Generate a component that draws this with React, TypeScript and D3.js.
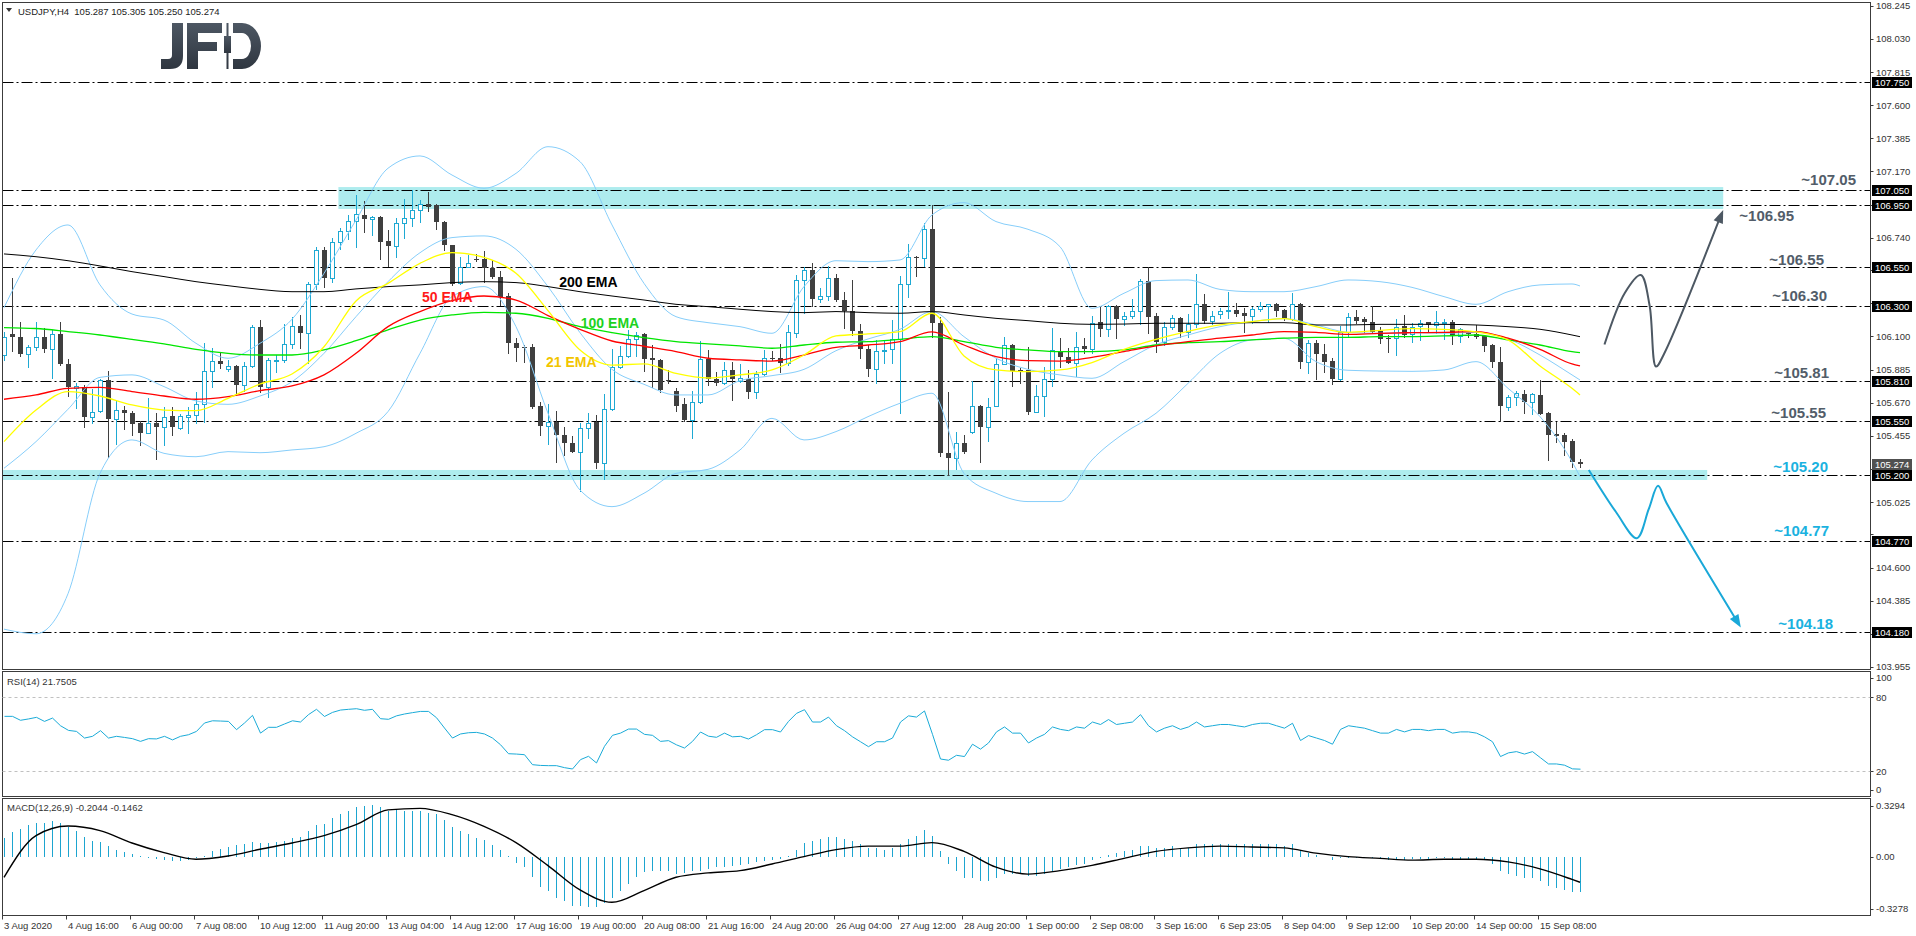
import React, { useMemo } from 'react';
import * as d3 from 'd3';

const WIDTH = 1916;
const HEIGHT = 936;
const FONT = '"Liberation Sans", Arial, sans-serif';

const BULL = '#1ea9d3';
const BEAR = '#3f3f3f';

// USDJPY H4 candles: open, high, low, close
const candles: [number, number, number, number][] = [
  [105.979, 106.131, 105.947, 106.098], [106.116, 106.477, 106.007, 106.094], [106.096, 106.193, 105.973, 105.988], [105.984, 106.044, 105.904, 106.029], [106.029, 106.193, 106.012, 106.098],
  [106.094, 106.157, 106.001, 106.016], [106.016, 106.142, 105.832, 106.113], [106.116, 106.193, 105.914, 105.919], [105.919, 105.953, 105.713, 105.769], [105.763, 105.8, 105.633, 105.778],
  [105.774, 105.785, 105.51, 105.575], [105.575, 105.757, 105.54, 105.612], [105.616, 105.821, 105.612, 105.817], [105.817, 105.878, 105.32, 105.562], [105.562, 105.681, 105.4, 105.622],
  [105.622, 105.648, 105.501, 105.601], [105.601, 105.618, 105.458, 105.529], [105.535, 105.551, 105.393, 105.471], [105.471, 105.702, 105.471, 105.535], [105.535, 105.601, 105.302, 105.51],
  [105.51, 105.644, 105.393, 105.575], [105.583, 105.64, 105.458, 105.51], [105.506, 105.596, 105.501, 105.583], [105.579, 105.64, 105.475, 105.588], [105.588, 105.737, 105.535, 105.659],
  [105.659, 106.059, 105.546, 105.875], [105.875, 106.023, 105.774, 105.94], [105.94, 106.001, 105.897, 105.919], [105.891, 105.947, 105.878, 105.91], [105.91, 105.914, 105.72, 105.785],
  [105.785, 105.936, 105.748, 105.91], [105.91, 106.174, 105.904, 106.159], [106.159, 106.206, 105.742, 105.774], [105.769, 105.958, 105.705, 105.947], [105.943, 105.979, 105.871, 105.949],
  [105.947, 106.178, 105.936, 106.051], [106.049, 106.224, 106.023, 106.165], [106.165, 106.239, 106.023, 106.12], [106.124, 106.455, 105.925, 106.44], [106.44, 106.678, 106.41, 106.661],
  [106.661, 106.678, 106.423, 106.477], [106.477, 106.741, 106.455, 106.71], [106.71, 106.801, 106.665, 106.786], [106.786, 106.888, 106.732, 106.849], [106.849, 107.018, 106.682, 106.894],
  [106.888, 106.979, 106.78, 106.86], [106.86, 106.881, 106.758, 106.873], [106.873, 106.881, 106.6, 106.714], [106.719, 106.79, 106.557, 106.689], [106.689, 106.866, 106.613, 106.833],
  [106.833, 106.99, 106.736, 106.871], [106.871, 107.05, 106.816, 106.918], [106.918, 106.985, 106.845, 106.957], [106.957, 107.039, 106.916, 106.942], [106.95, 106.959, 106.795, 106.84],
  [106.845, 106.849, 106.661, 106.691], [106.691, 106.695, 106.436, 106.44], [106.444, 106.617, 106.44, 106.553], [106.553, 106.626, 106.548, 106.574], [106.604, 106.635, 106.591, 106.6],
  [106.604, 106.654, 106.455, 106.546], [106.546, 106.596, 106.477, 106.483], [106.483, 106.527, 106.304, 106.354], [106.362, 106.384, 105.99, 106.055], [106.055, 106.088, 105.943, 106.027],
  [106.031, 106.044, 105.936, 106.027], [106.029, 106.051, 105.633, 105.644], [105.648, 105.676, 105.46, 105.521], [105.521, 105.661, 105.402, 105.546], [105.546, 105.618, 105.285, 105.458],
  [105.46, 105.514, 105.33, 105.406], [105.406, 105.454, 105.352, 105.352], [105.352, 105.54, 105.099, 105.503], [105.503, 105.601, 105.438, 105.54], [105.546, 105.588, 105.244, 105.281],
  [105.276, 105.726, 105.172, 105.627], [105.627, 106.016, 105.622, 105.899], [105.899, 106.038, 105.893, 105.975], [105.975, 106.142, 105.968, 106.081], [106.081, 106.131, 105.973, 106.111],
  [106.113, 106.124, 105.878, 105.951], [105.958, 106.044, 105.769, 105.945], [105.947, 105.951, 105.742, 105.752], [105.815, 105.882, 105.795, 105.811], [105.746, 105.763, 105.618, 105.648],
  [105.661, 105.698, 105.553, 105.557], [105.557, 105.748, 105.438, 105.672], [105.672, 106.07, 105.666, 105.951], [105.953, 106.012, 105.785, 105.821], [105.821, 105.871, 105.785, 105.8],
  [105.8, 105.936, 105.791, 105.882], [105.882, 105.936, 105.687, 105.821], [105.813, 105.921, 105.806, 105.828], [105.824, 105.882, 105.698, 105.737], [105.737, 105.878, 105.698, 105.854],
  [105.854, 106.012, 105.85, 105.958], [105.96, 106.007, 105.947, 105.955], [105.958, 106.051, 105.871, 105.925], [105.925, 106.174, 105.914, 106.126], [106.124, 106.498, 106.094, 106.466],
  [106.466, 106.553, 106.25, 106.531], [106.531, 106.574, 106.297, 106.341], [106.341, 106.412, 106.325, 106.362], [106.362, 106.557, 106.336, 106.477], [106.477, 106.505, 106.332, 106.336],
  [106.336, 106.386, 106.157, 106.265], [106.265, 106.466, 106.109, 106.137], [106.137, 106.18, 105.958, 106.016], [106.016, 106.044, 105.843, 105.886], [105.886, 106.077, 105.8, 106.005],
  [106.005, 106.077, 105.925, 106.01], [106.016, 106.206, 105.925, 106.081], [106.081, 106.492, 105.601, 106.438], [106.438, 106.697, 106.354, 106.613], [106.615, 106.622, 106.494, 106.609],
  [106.609, 106.833, 106.557, 106.795], [106.795, 106.953, 106.098, 106.189], [106.189, 106.224, 105.324, 105.346], [105.346, 105.737, 105.2, 105.309], [105.309, 105.477, 105.237, 105.406],
  [105.406, 105.46, 105.341, 105.352], [105.477, 105.811, 105.471, 105.65], [105.648, 105.652, 105.287, 105.51], [105.51, 105.702, 105.423, 105.644], [105.65, 105.958, 105.646, 105.921],
  [105.921, 106.094, 105.918, 106.042], [106.042, 106.051, 105.778, 105.878], [105.884, 105.893, 105.8, 105.878], [105.882, 106.029, 105.596, 105.612], [105.612, 105.782, 105.61, 105.713],
  [105.713, 105.904, 105.583, 105.821], [105.821, 106.152, 105.778, 106.012], [106.007, 106.088, 105.904, 105.964], [105.968, 106.023, 105.925, 105.93], [105.93, 106.126, 105.843, 106.033],
  [106.038, 106.088, 105.99, 106.02], [106.02, 106.232, 105.99, 106.189], [106.191, 106.299, 106.103, 106.146], [106.146, 106.304, 106.103, 106.297], [106.297, 106.304, 106.092, 106.211],
  [106.211, 106.261, 106.174, 106.235], [106.235, 106.341, 106.217, 106.267], [106.267, 106.47, 106.18, 106.462], [106.459, 106.548, 106.124, 106.228], [106.235, 106.25, 106.001, 106.062],
  [106.062, 106.196, 106.044, 106.163], [106.163, 106.239, 106.146, 106.217], [106.217, 106.224, 106.098, 106.131], [106.131, 106.245, 106.098, 106.18], [106.18, 106.505, 106.159, 106.31],
  [106.31, 106.375, 106.185, 106.202], [106.202, 106.267, 106.18, 106.232], [106.243, 106.282, 106.217, 106.267], [106.267, 106.386, 106.217, 106.271], [106.269, 106.319, 106.232, 106.245],
  [106.254, 106.282, 106.131, 106.235], [106.235, 106.293, 106.185, 106.276], [106.276, 106.321, 106.267, 106.297], [106.297, 106.31, 106.196, 106.308], [106.308, 106.315, 106.235, 106.267],
  [106.271, 106.276, 106.206, 106.213], [106.213, 106.38, 106.206, 106.308], [106.308, 106.315, 105.897, 105.936], [105.936, 106.077, 105.86, 106.055], [106.055, 106.077, 105.824, 105.984],
  [105.984, 106.051, 105.867, 105.936], [105.94, 105.958, 105.789, 105.821], [105.821, 106.167, 105.817, 106.131], [106.131, 106.25, 106.098, 106.228], [106.228, 106.271, 106.185, 106.2],
  [106.211, 106.228, 106.131, 106.191], [106.191, 106.299, 106.126, 106.131], [106.135, 106.163, 106.055, 106.083], [106.09, 106.109, 106.001, 106.085], [106.088, 106.211, 105.979, 106.163],
  [106.167, 106.239, 106.098, 106.109], [106.113, 106.185, 106.066, 106.163], [106.167, 106.206, 106.077, 106.185], [106.191, 106.196, 106.135, 106.172], [106.172, 106.265, 106.12, 106.191],
  [106.191, 106.211, 106.083, 106.196], [106.191, 106.206, 106.051, 106.103], [106.103, 106.152, 106.066, 106.146], [106.124, 106.131, 106.098, 106.116], [106.116, 106.174, 106.092, 106.098],
  [106.103, 106.109, 106.005, 106.04], [106.044, 106.051, 105.904, 105.936], [105.932, 106.029, 105.551, 105.65], [105.644, 105.72, 105.622, 105.705], [105.705, 105.748, 105.655, 105.731],
  [105.726, 105.752, 105.605, 105.676], [105.676, 105.731, 105.596, 105.726], [105.72, 105.817, 105.596, 105.596], [105.601, 105.612, 105.298, 105.46], [105.464, 105.546, 105.417, 105.456],
  [105.46, 105.471, 105.33, 105.417], [105.421, 105.434, 105.255, 105.287], [105.287, 105.305, 105.25, 105.274],
];

// indicator lines are read every 4th bar
const indicatorIdx = [
  0, 4, 8, 12, 16, 20, 24, 28, 32, 36, 40, 44, 48, 52, 56, 60, 64, 68, 72, 76, 80, 84, 88, 92, 96,
  100, 104, 108, 112, 116, 120, 124, 128, 132, 136, 140, 144, 148, 152, 156, 160, 164, 168, 172, 176, 180, 184, 188, 192, 196, 197,
];
const ema200 = [
  106.635, 106.617, 106.591, 106.557, 106.52, 106.488, 106.455, 106.429, 106.405, 106.39, 106.39, 106.408, 106.423, 106.434, 106.449, 106.455, 106.449, 106.423, 106.39, 106.362, 106.336, 106.308, 106.293, 106.276, 106.261,
  106.254, 106.261, 106.254, 106.25, 106.261, 106.239, 106.217, 106.202, 106.185, 106.178, 106.18, 106.185, 106.185, 106.185, 106.189, 106.189, 106.174, 106.174, 106.178, 106.178, 106.178, 106.174, 106.163, 106.146, 106.109, 106.098,
];
const ema100 = [
  106.157, 106.151, 106.131, 106.109, 106.081, 106.051, 106.016, 105.99, 105.979, 105.979, 106.012, 106.072, 106.142, 106.206, 106.239, 106.256, 106.25, 106.217, 106.163, 106.124, 106.092, 106.066, 106.051, 106.038, 106.023,
  106.044, 106.062, 106.066, 106.081, 106.098, 106.066, 106.029, 106.012, 106.001, 106.001, 106.012, 106.044, 106.059, 106.066, 106.077, 106.088, 106.094, 106.094, 106.098, 106.098, 106.103, 106.109, 106.077, 106.044, 106.001, 105.995,
];
const ema50 = [
  105.692, 105.72, 105.763, 105.769, 105.742, 105.713, 105.692, 105.709, 105.748, 105.778, 105.85, 105.99, 106.163, 106.261, 106.332, 106.362, 106.336, 106.235, 106.146, 106.07, 106.036, 106.001, 105.958, 105.947, 105.94,
  105.979, 106.029, 106.044, 106.066, 106.129, 106.044, 105.968, 105.943, 105.94, 105.964, 106.001, 106.038, 106.066, 106.088, 106.109, 106.131, 106.126, 106.113, 106.12, 106.124, 106.126, 106.131, 106.088, 106.016, 105.921, 105.908,
];
const ema21 = [
  105.417, 105.622, 105.742, 105.713, 105.655, 105.622, 105.618, 105.698, 105.791, 105.856, 106.033, 106.33, 106.444, 106.574, 106.643, 106.613, 106.509, 106.267, 106.012, 105.914, 105.921, 105.86, 105.83, 105.85, 105.882,
  105.979, 106.103, 106.116, 106.131, 106.25, 105.973, 105.882, 105.871, 105.882, 105.93, 106.016, 106.081, 106.133, 106.174, 106.196, 106.215, 106.163, 106.126, 106.139, 106.15, 106.146, 106.129, 106.077, 105.908, 105.763, 105.72,
];
const bbUpper = [
  106.286, 106.661, 106.823, 106.434, 106.245, 106.206, 106.055, 105.958, 106.055, 106.211, 106.509, 106.855, 107.191, 107.271, 107.147, 107.061, 107.158, 107.331, 107.234, 106.823, 106.444, 106.228, 106.189, 106.163, 106.12,
  106.423, 106.591, 106.585, 106.596, 106.888, 106.968, 106.845, 106.795, 106.682, 106.282, 106.38, 106.462, 106.466, 106.405, 106.39, 106.39, 106.423, 106.466, 106.455, 106.418, 106.358, 106.308, 106.39, 106.434, 106.44, 106.427,
];
const bbMiddle = [
  105.244, 105.417, 105.627, 105.834, 105.85, 105.774, 105.681, 105.659, 105.713, 105.806, 105.99, 106.228, 106.455, 106.643, 106.741, 106.752, 106.665, 106.423, 106.124, 105.886, 105.789, 105.72, 105.72, 105.813, 105.845,
  105.886, 106.007, 106.083, 106.146, 106.261, 106.098, 105.958, 105.886, 105.85, 105.828, 105.936, 106.046, 106.109, 106.163, 106.196, 106.215, 106.174, 106.126, 106.12, 106.124, 106.12, 106.126, 106.083, 105.979, 105.85, 105.817,
];
const bbLower = [
  104.2, 104.17, 104.43, 105.211, 105.428, 105.341, 105.319, 105.352, 105.345, 105.363, 105.384, 105.471, 105.612, 105.99, 106.358, 106.423, 106.163, 105.601, 105.103, 104.995, 105.082, 105.211, 105.237, 105.363, 105.568,
  105.428, 105.482, 105.579, 105.666, 105.731, 105.211, 105.082, 105.028, 105.028, 105.298, 105.471, 105.601, 105.795, 105.99, 106.077, 106.088, 105.936, 105.88, 105.875, 105.873, 105.882, 105.936, 105.763, 105.579, 105.287, 105.19,
];

// RSI(14), one value per bar
const rsi14 = [
  64.6, 64.6, 61.4, 62.5, 63.8, 60.5, 63.2, 57, 53.2, 52.4,
  47, 48.4, 53, 47, 48.4, 47.5, 46.5, 44.3, 46.5, 46.3,
  48.4, 45.5, 48.4, 49.7, 52.4, 59.2, 61, 60.8, 60.5, 53.8,
  59.2, 65.4, 51, 55.7, 55.7, 58.4, 61, 60, 66, 70.3,
  64.5, 67.8, 69.7, 70.3, 70.8, 69.5, 70.3, 62.7, 62.2, 65,
  66.5, 67.6, 68.6, 68.6, 63.5, 55.1, 47, 50.3, 51.3, 51.6,
  50.3, 47, 41.6, 34.3, 34, 33.5, 25.4, 24.8, 24.6, 24.6,
  23, 21.9, 29.5, 32.2, 26.8, 40.3, 49.2, 51, 54.3, 54.3,
  50, 49.2, 44.3, 44.9, 41.5, 38.9, 44.3, 51.9, 48.5, 47.6,
  51, 48, 48.4, 46.2, 49.7, 53.8, 53.8, 51.9, 60.5, 67,
  70, 60, 60, 64, 57, 53, 48, 44, 40, 44,
  44, 47, 60, 65, 64, 69, 50, 30, 29, 33,
  32, 42, 38, 43, 52, 56, 51, 51, 43, 47,
  50, 56, 54, 53, 56, 55, 60, 58, 62, 58,
  59, 60, 66, 57, 52, 55, 57, 54, 56, 60,
  56, 57, 58, 58, 57, 56, 58, 59, 59, 57,
  55, 59, 45, 49, 47, 45, 42, 54, 57, 56,
  55, 53, 51, 51, 54, 52, 54, 54, 53, 54,
  54, 51, 52, 52, 51, 48, 44, 32, 35, 36,
  34, 36, 31, 26, 26, 25, 22, 21.7505,
];

// MACD(12,26,9) main, one value per bar
const macdMain = [
  0.107, 0.139, 0.158, 0.183, 0.194, 0.194, 0.202, 0.19, 0.171, 0.149,
  0.11, 0.088, 0.082, 0.059, 0.04, 0.025, 0.015, 0.004, -0.008, -0.013,
  -0.019, -0.023, -0.027, -0.017, -0.008, 0.002, 0.03, 0.042, 0.053, 0.065,
  0.072, 0.086, 0.078, 0.078, 0.082, 0.091, 0.107, 0.11, 0.145, 0.179,
  0.187, 0.221, 0.244, 0.263, 0.282, 0.291, 0.295, 0.282, 0.263, 0.267,
  0.259, 0.259, 0.259, 0.25, 0.244, 0.21, 0.171, 0.145, 0.13, 0.107,
  0.095, 0.069, 0.038, 0.004, -0.038, -0.061, -0.114, -0.171, -0.198, -0.236,
  -0.251, -0.28, -0.28, -0.286, -0.29, -0.267, -0.236, -0.194, -0.156, -0.114,
  -0.09, -0.084, -0.084, -0.084, -0.099, -0.095, -0.084, -0.08, -0.07, -0.061,
  -0.057, -0.051, -0.046, -0.042, -0.032, -0.023, -0.019, -0.013, 0.004, 0.04,
  0.08, 0.09, 0.1, 0.11, 0.11, 0.1, 0.09, 0.07, 0.05, 0.05,
  0.04, 0.05, 0.07, 0.1, 0.12, 0.15, 0.12, 0.03, -0.04, -0.08,
  -0.12, -0.12, -0.14, -0.14, -0.12, -0.1, -0.1, -0.1, -0.11, -0.11,
  -0.1, -0.08, -0.07, -0.06, -0.05, -0.04, -0.02, -0.01, 0.01, 0.02,
  0.03, 0.04, 0.06, 0.06, 0.05, 0.05, 0.06, 0.05, 0.05, 0.07,
  0.07, 0.07, 0.07, 0.07, 0.07, 0.07, 0.07, 0.07, 0.07, 0.07,
  0.06, 0.07, 0.03, 0.02, 0.01, 0.0, -0.02, -0.01, -0.005, -0.005,
  -0.008, -0.01, -0.015, -0.018, -0.015, -0.018, -0.015, -0.013, -0.013, -0.01,
  -0.01, -0.013, -0.012, -0.013, -0.015, -0.022, -0.04, -0.08, -0.1, -0.11,
  -0.12, -0.12, -0.14, -0.17, -0.18, -0.19, -0.2, -0.2044,
];
// MACD signal line, read at indicatorIdx
const macdSignal = [
  -0.118, 0.12, 0.175, 0.149, 0.078, 0.023, -0.015, 0.004, 0.042, 0.078, 0.12, 0.183, 0.267, 0.276, 0.24, 0.173, 0.08, -0.051, -0.19, -0.261, -0.194, -0.118, -0.093, -0.08, -0.042,
  0.0, 0.04, 0.06, 0.06, 0.08, 0.03, -0.06, -0.1, -0.08, -0.05, -0.01, 0.03, 0.05, 0.06, 0.055, 0.05, 0.02, 0.0, -0.01, -0.02, -0.015, -0.015, -0.03, -0.07, -0.13, -0.1462,
];

const levels = [107.75, 107.05, 106.95, 106.55, 106.3, 105.81, 105.55, 105.2, 104.77, 104.18];
const priceTicks = [
  108.245, 108.03, 107.815, 107.6, 107.385, 107.17, 106.955, 106.74, 106.53, 106.315, 106.1,
  105.885, 105.67, 105.455, 105.24, 105.025, 104.815, 104.6, 104.385, 104.17, 103.955,
];
const lastPrice = 105.274;
const headerText = 'USDJPY,H4\u00a0\u00a0105.287 105.305 105.250 105.274';

const timeLabels = [
  '3 Aug 2020', '4 Aug 16:00', '6 Aug 00:00', '7 Aug 08:00', '10 Aug 12:00', '11 Aug 20:00', '13 Aug 04:00',
  '14 Aug 12:00', '17 Aug 16:00', '19 Aug 00:00', '20 Aug 08:00', '21 Aug 16:00', '24 Aug 20:00', '26 Aug 04:00',
  '27 Aug 12:00', '28 Aug 20:00', '1 Sep 00:00', '2 Sep 08:00', '3 Sep 16:00', '6 Sep 23:05', '8 Sep 04:00',
  '9 Sep 12:00', '10 Sep 20:00', '14 Sep 00:00', '15 Sep 08:00',
];

// analyst notes next to the levels
const noteTexts = ['~107.05', '~106.95', '~106.55', '~106.30', '~105.81', '~105.55', '~105.20', '~104.77', '~104.18'];
const notePrices = [107.05, 106.95, 106.55, 106.3, 105.81, 105.55, 105.2, 104.77, 104.18];
const noteBearish = [false, false, false, false, false, false, true, true, true];

// scenario arrows (bar index, price)
const bullArrowIdx = [200.06, 202.6, 204.6, 205.7, 206.5, 207.5, 214.9];
const bullArrowPrice = [106.047, 106.382, 106.498, 106.3, 105.904, 105.986, 106.92];
const bearArrowIdx = [198.1, 201.5, 204.1, 205.6, 206.75, 207.8, 217.1];
const bearArrowPrice = [105.233, 104.96, 104.79, 104.98, 105.13, 105.02, 104.21];

// shaded zones: from bar, to bar, low, high
const zones: [number, number, number, number][] = [
  [41.8, 214.9, 106.927, 107.069],
  [-0.2, 212.9, 105.168, 105.233],
];

const emaNames = ['200 EMA', '50 EMA', '100 EMA', '21 EMA'];
const emaNameIdx = [69.4, 52.25, 72.1, 67.75];
const emaNamePrice = [106.453, 106.356, 106.187, 105.934];

const App: React.FC = () => {
  const P = { left: 2.5, right: 1870.5, top: 2.5, mainBottom: 669.5, rsiTop: 671.5, rsiBottom: 796.5, macdTop: 798.5, macdBottom: 915.5 };

  const x = useMemo(() => d3.scaleLinear().domain([0, 197]).range([4, 1580]), []);
  const y = useMemo(() => d3.scaleLinear().domain([103.955, 108.245]).range([666.9, 5.85]), []);
  const yRsi = useMemo(() => d3.scaleLinear().domain([0, 100]).range([796, 672.7]), []);
  const yMacd = useMemo(() => d3.scaleLinear().domain([-0.3278, 0.3294]).range([914, 799]), []);

  const sampled = (vals: number[]) =>
    d3.line<number>()
      .x((_, k) => x(indicatorIdx[k]))
      .y(v => y(v))
      .curve(d3.curveMonotoneX)(vals) || '';

  const rsiPath = d3.line<number>().x((_, i) => x(i) + 0.5).y(v => yRsi(v))(rsi14) || '';
  const signalPath = d3.line<number>()
    .x((_, k) => x(indicatorIdx[k]))
    .y(v => yMacd(v))
    .curve(d3.curveMonotoneX)(macdSignal) || '';

  const arrow = (idx: number[], price: number[]) => {
    const pts: [number, number][] = idx.map((v, k) => [x(v), y(price[k])]);
    const [x1, y1] = pts[pts.length - 2];
    const [x2, y2] = pts[pts.length - 1];
    const a = Math.atan2(y2 - y1, x2 - x1);
    const len = 13, half = 5;
    const bx = x2 - len * Math.cos(a), by = y2 - len * Math.sin(a);
    const head = [
      [x2, y2],
      [bx + half * Math.sin(a), by - half * Math.cos(a)],
      [bx - half * Math.sin(a), by + half * Math.cos(a)],
    ].map(p => p.join(',')).join(' ');
    const shaft = d3.line().curve(d3.curveCatmullRom.alpha(0.5))(
      [...pts.slice(0, -1), [x2 - (len - 2) * Math.cos(a), y2 - (len - 2) * Math.sin(a)]]
    ) || '';
    return { shaft, head };
  };
  const bull = arrow(bullArrowIdx, bullArrowPrice);
  const bear = arrow(bearArrowIdx, bearArrowPrice);

  const noteLayout: [number, number][] = [[1856, -10], [1794, 10], [1824, -8], [1827, -10], [1829, -9], [1826, -9], [1828, -9], [1829, -11], [1833, -9]];

  // tick labels hidden under the level / price boxes are not drawn
  const boxYs = [...levels, lastPrice].map(v => y(v));
  const visibleTicks = priceTicks.filter(t => boxYs.every(by => Math.abs(y(t) - by) > 10));

  const axisText = { fontFamily: FONT, fontSize: 9.5, fill: '#333' };

  return (
    <div style={{ position: 'absolute', left: 0, top: 0, width: WIDTH, height: HEIGHT, background: '#fff' }}>
      <svg width={WIDTH} height={HEIGHT} viewBox={`0 0 ${WIDTH} ${HEIGHT}`} style={{ display: 'block' }}>
        <defs>
          <clipPath id="main-clip">
            <rect x={P.left} y={P.top} width={P.right - P.left} height={P.mainBottom - P.top} />
          </clipPath>
          <linearGradient id="logo-grad" x1="0" y1="0" x2="0" y2="1">
            <stop offset="0%" stopColor="#4d5763" />
            <stop offset="100%" stopColor="#2f3640" />
          </linearGradient>
        </defs>
        <rect width={WIDTH} height={HEIGHT} fill="#fff" />

        <g clipPath="url(#main-clip)">
          {/* zones */}
          {zones.map(([a, b, lo, hi], k) => (
            <rect key={k} x={x(a)} y={y(hi)} width={x(b) - x(a)} height={y(lo) - y(hi)} fill="#aeecee" />
          ))}

          {/* levels */}
          {levels.map(l => (
            <line key={l} x1={P.left} x2={P.right} y1={Math.round(y(l)) + 0.5} y2={Math.round(y(l)) + 0.5}
              stroke="#000" strokeWidth={1} strokeDasharray="11,3,2,3" />
          ))}

          {/* candles */}
          {candles.map(([o, h, l, c], i) => {
            const cx = Math.round(x(i));
            const up = c >= o;
            const col = up ? BULL : BEAR;
            const yT = Math.round(y(Math.max(o, c)));
            const yB = Math.round(y(Math.min(o, c)));
            return (
              <g key={i}>
                <line x1={cx + 0.5} x2={cx + 0.5} y1={Math.round(y(h))} y2={Math.round(y(l)) + 1} stroke={col} />
                {up ? (
                  <rect x={cx - 1.5} y={yT + 0.5} width={4} height={Math.max(yB - yT, 1)} fill="#fff" stroke={col} />
                ) : (
                  <rect x={cx - 2} y={yT} width={5} height={Math.max(yB - yT, 1)} fill={col} />
                )}
              </g>
            );
          })}

          {/* Bollinger bands */}
          {[bbUpper, bbMiddle, bbLower].map((b, k) => (
            <path key={k} d={sampled(b)} fill="none" stroke="#87cefa" strokeWidth={1} />
          ))}
          {/* EMAs */}
          <path d={sampled(ema200)} fill="none" stroke="#000" strokeWidth={1} />
          <path d={sampled(ema100)} fill="none" stroke="#00e600" strokeWidth={1.3} />
          <path d={sampled(ema50)} fill="none" stroke="#ff0000" strokeWidth={1.3} />
          <path d={sampled(ema21)} fill="none" stroke="#ffff00" strokeWidth={1.3} />

          {emaNames.map((n, k) => (
            <text key={n} x={x(emaNameIdx[k])} y={y(emaNamePrice[k])} dominantBaseline="central"
              fontFamily={FONT} fontWeight="bold" fontSize={14}
              fill={['#000', '#ff1a1a', '#1ed21e', '#f2c500'][k]}>{n}</text>
          ))}

          {/* scenario arrows */}
          <path d={bull.shaft} fill="none" stroke="#4d5863" strokeWidth={2} />
          <polygon points={bull.head} fill="#4d5863" />
          <path d={bear.shaft} fill="none" stroke="#1aa8d8" strokeWidth={2} />
          <polygon points={bear.head} fill="#1aa8d8" />

          {noteTexts.map((t, k) => (
            <text key={t} x={noteLayout[k][0]} y={y(notePrices[k]) + noteLayout[k][1]} textAnchor="end"
              dominantBaseline="central" fontFamily={FONT} fontWeight="bold" fontSize={15}
              fill={noteBearish[k] ? '#1ab2e0' : '#525d69'}>{t}</text>
          ))}
        </g>

        {/* header */}
        <polygon points="6,8 12,8 9,12" fill="#333" />
        <text x={18} y={11} dominantBaseline="central" fontFamily={FONT} fontSize={9.5} fill="#222">{headerText}</text>

        {/* JFD logo */}
        <g fill="url(#logo-grad)">
          <path d="M172,23 H183 V56 Q183,69 170,69 H161 V59 H168 Q172,59 172,55 Z" />
          <path d="M187,23 H222 V33 H198 V42 H217 V51 H198 V69 H187 Z" />
          <rect x={226.5} y={23} width={2} height={46} />
          <rect x={224} y={36} width={7} height={17} />
          <path d="M233,23 H242 A19,23 0 0 1 242,69 H233 V59 H242 A9,13 0 0 0 242,33 H233 Z" />
        </g>

        {/* panel borders */}
        <rect x={P.left} y={P.top} width={P.right - P.left} height={P.mainBottom - P.top} fill="none" stroke="#3c3c3c" />
        <rect x={P.left} y={P.rsiTop} width={P.right - P.left} height={P.rsiBottom - P.rsiTop} fill="none" stroke="#3c3c3c" />
        <rect x={P.left} y={P.macdTop} width={P.right - P.left} height={P.macdBottom - P.macdTop} fill="none" stroke="#3c3c3c" />

        {/* price axis */}
        {priceTicks.map(t => (
          <line key={t} x1={P.right} x2={P.right + 3} y1={Math.round(y(t)) + 0.5} y2={Math.round(y(t)) + 0.5} stroke="#3c3c3c" />
        ))}
        {visibleTicks.map(t => (
          <text key={t} x={1876} y={y(t)} dominantBaseline="central" {...axisText}>{t.toFixed(3)}</text>
        ))}
        {levels.map(l => (
          <g key={l}>
            <rect x={1872} y={Math.round(y(l)) - 5} width={40} height={11} fill="#000" />
            <text x={1875} y={Math.round(y(l)) + 0.5} dominantBaseline="central" fontFamily={FONT} fontSize={9.5} fill="#fff">{l.toFixed(3)}</text>
          </g>
        ))}
        <rect x={1872} y={Math.round(y(lastPrice)) - 5} width={40} height={11} fill="#505050" />
        <text x={1875} y={Math.round(y(lastPrice)) + 0.5} dominantBaseline="central" fontFamily={FONT} fontSize={9.5} fill="#fff">{lastPrice.toFixed(3)}</text>

        {/* RSI */}
        <text x={7} y={681} dominantBaseline="central" {...axisText}>RSI(14) 21.7505</text>
        {[80, 20].map(v => (
          <line key={v} x1={P.left} x2={P.right} y1={Math.round(yRsi(v)) + 0.5} y2={Math.round(yRsi(v)) + 0.5}
            stroke="#c0c0c0" strokeDasharray="3,3" />
        ))}
        <path d={rsiPath} fill="none" stroke="#1aabd8" strokeWidth={1} />
        {[100, 80, 20, 0].map(v => {
          const yy = Math.min(Math.max(yRsi(v), P.rsiTop + 6), P.rsiBottom - 7);
          return (
            <g key={v}>
              <line x1={P.right} x2={P.right + 3} y1={Math.round(yy) + 0.5} y2={Math.round(yy) + 0.5} stroke="#3c3c3c" />
              <text x={1876} y={yy} dominantBaseline="central" {...axisText}>{v}</text>
            </g>
          );
        })}

        {/* MACD */}
        <text x={7} y={807} dominantBaseline="central" {...axisText}>MACD(12,26,9) -0.2044 -0.1462</text>
        {macdMain.map((v, i) => (
          <line key={i} x1={Math.round(x(i)) + 0.5} x2={Math.round(x(i)) + 0.5}
            y1={Math.round(yMacd(0))} y2={Math.round(yMacd(v))} stroke="#1da5d0" />
        ))}
        <path d={signalPath} fill="none" stroke="#000" strokeWidth={1.4} />
        {[[0.3294, '0.3294'], [0, '0.00'], [-0.3278, '-0.3278']].map(([v, s]) => {
          const yy = Math.min(Math.max(yMacd(v as number), P.macdTop + 7), P.macdBottom - 7);
          return (
            <g key={s as string}>
              <line x1={P.right} x2={P.right + 3} y1={Math.round(yy) + 0.5} y2={Math.round(yy) + 0.5} stroke="#3c3c3c" />
              <text x={1876} y={yy} dominantBaseline="central" {...axisText}>{s as string}</text>
            </g>
          );
        })}

        {/* time axis */}
        {timeLabels.map((t, k) => {
          const tx = Math.round(x(k * 8)) - 1.5;
          return (
            <g key={t}>
              <line x1={tx} x2={tx} y1={P.macdBottom} y2={P.macdBottom + 4} stroke="#3c3c3c" />
              <text x={tx + 1.5} y={925} dominantBaseline="central" {...axisText}>{t}</text>
            </g>
          );
        })}
      </svg>
    </div>
  );
};

export default App;
